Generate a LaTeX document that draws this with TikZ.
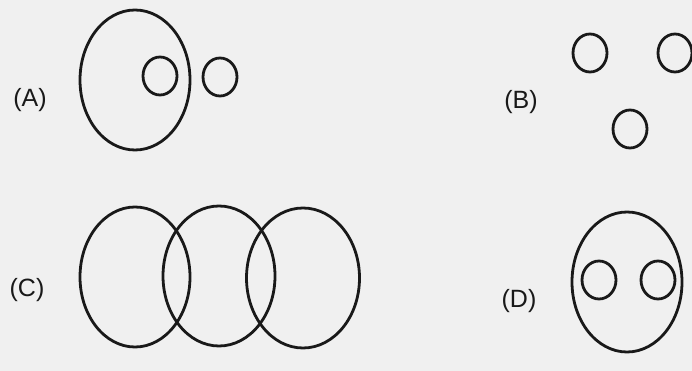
\documentclass[tikz,border=0pt]{standalone}
\usepackage{fontspec}
\setmainfont{Liberation Sans}
\usepackage{tikz}
\usetikzlibrary{positioning}
\usetikzlibrary{shapes.geometric}

\begin{document}
\begin{tikzpicture}[x=1pt, y=-1pt,
    set/.style={ellipse, draw=black!90, line width=2.8pt, inner sep=0pt},
    big/.style={set, minimum width=110pt, minimum height=140pt},
    small/.style={set, minimum width=34pt, minimum height=38pt},
    lbl/.style={font=\fontsize{25}{30}\selectfont, text=black!90}]
\fill[black!6] (0,0) rectangle (692,371);
\useasboundingbox (0,0) rectangle (692,371);

% (A)
    \node[lbl] (la) at (30,100) {(A)};
\node[big] (a1) at (135,80) {};
\node[small] (a2) at (160,76) {};
\node[small] (a3) at (220,77) {};

% (B)
\node[lbl] (lb) at (521,102) {(B)};
\node[small] (b1) at (590,53) {};
\node[small] (b2) at (675,53) {};
\node[small] (b3) at (630,129) {};

% (C)
\node[lbl] (lc) at (27,290) {(C)};
\node[big] (c1) at (135,277) {};
\node[big, minimum width=112pt] (c2) at (219,276) {};
\node[big, minimum width=113pt] (c3) at (303,278) {};

% (D)
\node[lbl] (ld) at (519,301) {(D)};
\node[big] (d1) at (627,282) {};
\node[small] (d2) at (599,280) {};
\node[small] (d3) at (658,280) {};
\end{tikzpicture}
\end{document}
